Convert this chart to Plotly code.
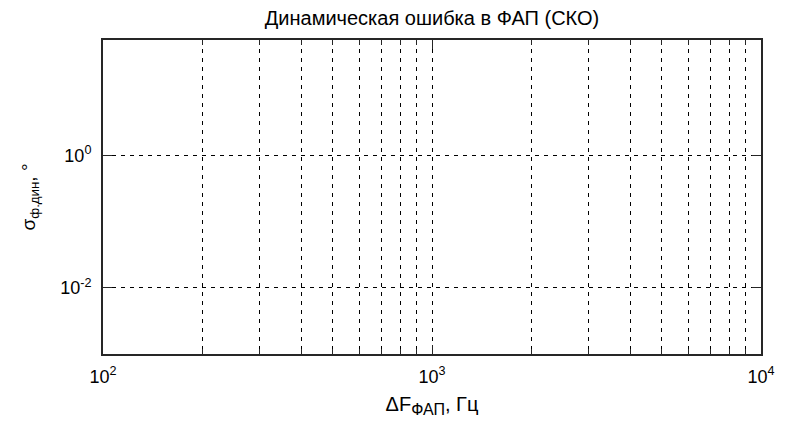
import plotly.graph_objects as go

# Axis decades and labels
x_major = [100, 1000, 10000]
x_major_text = ["10<sup>2</sup>", "10<sup>3</sup>", "10<sup>4</sup>"]
x_minor = [200, 300, 400, 500, 600, 700, 800, 900,
           2000, 3000, 4000, 5000, 6000, 7000, 8000, 9000]
y_major = [0.01, 1]
y_major_text = ["10<sup>-2</sup>", "10<sup>0</sup>"]

x_range_log = [2, 4]
y_range_log = [-3, 1.75]

FONT = "Liberation Sans, Arial, sans-serif"
GRID_DASH = "4px,5px"
AXIS_COLOR = "#262626"

fig = go.Figure()

fig.update_layout(
    width=787,
    height=429,
    margin=dict(l=103, r=23, t=40, b=75),
    paper_bgcolor="white",
    plot_bgcolor="white",
    showlegend=False,
    font=dict(family=FONT, size=18, color="black"),
    title=dict(
        text="Динамическая ошибка в ФАП (СКО)",
        x=0.5, xref="paper", xanchor="center",
        y=0.957, yanchor="middle",
        font=dict(family=FONT, size=20, color="black"),
    ),
)

fig.update_xaxes(
    type="log",
    range=x_range_log,
    tickmode="array",
    tickvals=x_major,
    ticktext=x_major_text,
    ticks="inside",
    ticklen=9,
    tickwidth=1,
    tickcolor=AXIS_COLOR,
    showline=True,
    linecolor=AXIS_COLOR,
    linewidth=2,
    mirror="allticks",
    showgrid=True,
    gridcolor="black",
    gridwidth=1,
    griddash=GRID_DASH,
    zeroline=False,
    ticklabelstandoff=5,
    tickfont=dict(family=FONT, size=18, color="black"),
    minor=dict(
        tickmode="array",
        tickvals=x_minor,
        ticks="inside",
        ticklen=5,
        tickcolor=AXIS_COLOR,
        showgrid=True,
        gridcolor="black",
        gridwidth=1,
        griddash=GRID_DASH,
    ),
    title=dict(
        text="ΔF<sub><span style='font-size:16px'>ФАП</span></sub>, Гц",
        font=dict(family=FONT, size=20, color="black"),
        standoff=11,
    ),
)

fig.update_yaxes(
    type="log",
    range=y_range_log,
    tickmode="array",
    tickvals=y_major,
    ticktext=y_major_text,
    ticks="inside",
    ticklen=9,
    tickwidth=1,
    tickcolor=AXIS_COLOR,
    showline=True,
    linecolor=AXIS_COLOR,
    linewidth=2,
    mirror="allticks",
    showgrid=True,
    gridcolor="black",
    gridwidth=1,
    griddash=GRID_DASH,
    zeroline=False,
    ticklabelstandoff=6,
    tickfont=dict(family=FONT, size=18, color="black"),
    title=dict(
        text="σ<sub>ф.дин</sub>, °",
        font=dict(family=FONT, size=19, color="black"),
        standoff=20,
    ),
)

fig.write_html("out.html")
